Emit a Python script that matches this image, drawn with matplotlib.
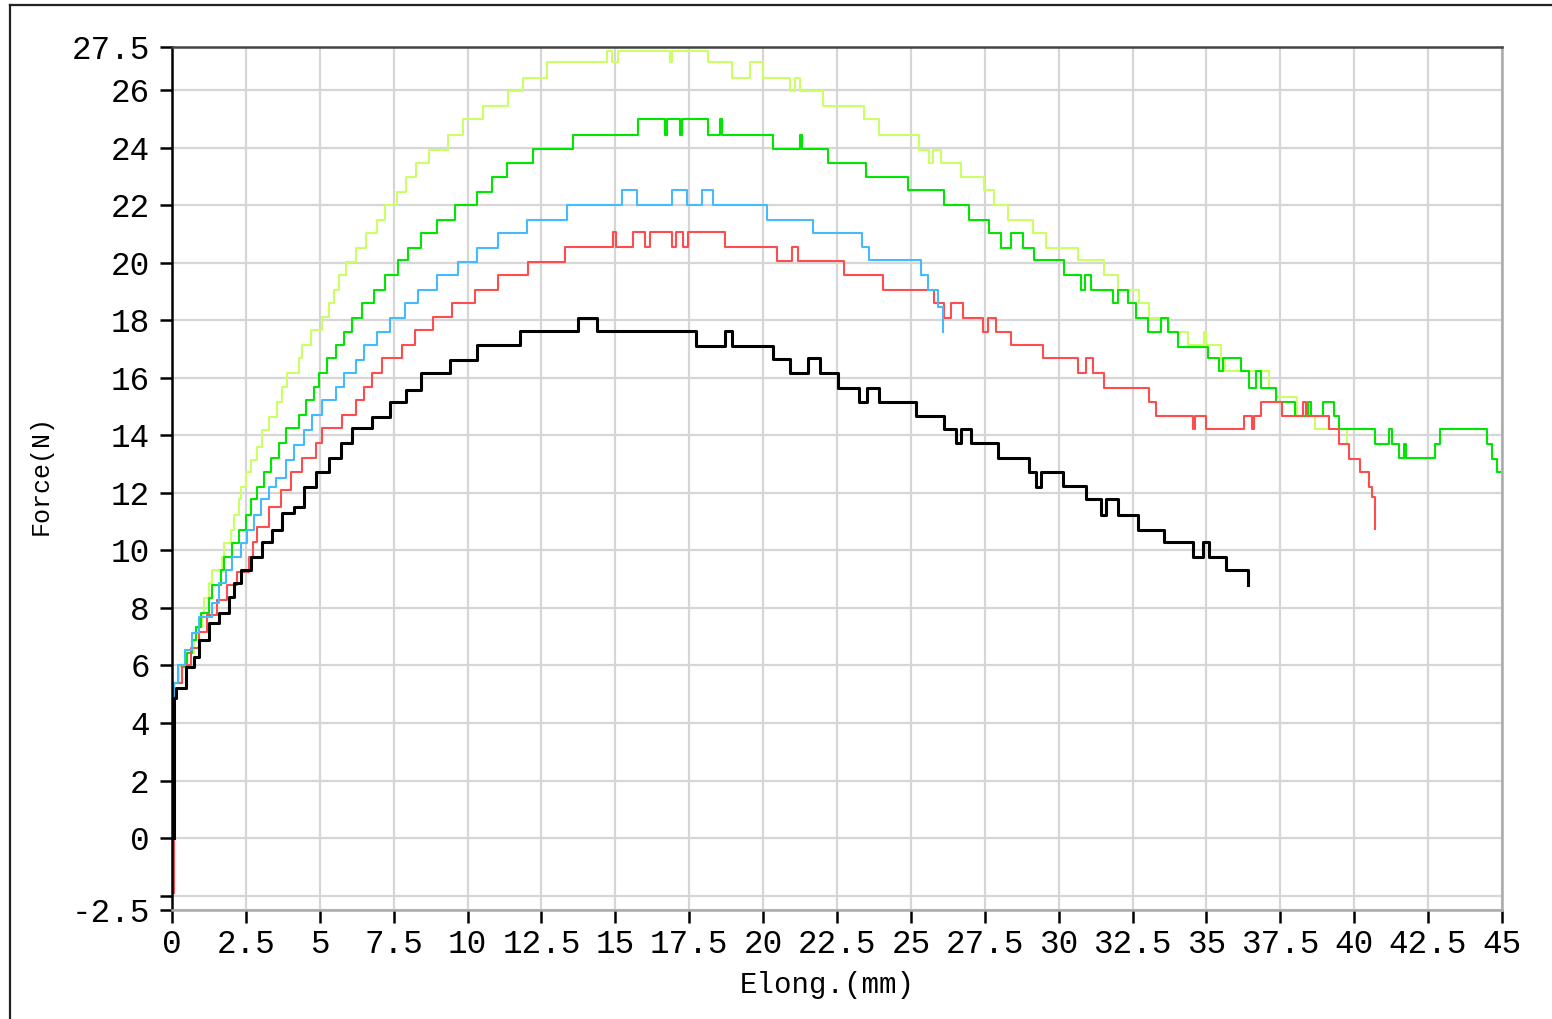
# force vs elongation curves, five specimens

import matplotlib.pyplot as plt
from matplotlib.lines import Line2D

# step points (elongation mm, force N)
black_x = [0.08, 0.08, 0.14, 0.47, 0.75, 0.92, 1.26, 1.59, 1.93, 2.10, 2.34, 2.68, 3.05, 3.39, 3.73, 4.14,
           4.48, 4.88, 5.32, 5.73, 6.10, 6.75, 7.36, 7.93, 8.41, 9.39, 10.31, 11.77, 13.73, 14.38,
           17.73, 18.72, 18.96, 20.35, 20.92, 21.53, 21.94, 22.55, 23.23, 23.53, 23.91, 25.16,
           26.11, 26.52, 26.69, 27.03, 27.94, 28.99, 29.23, 29.40, 30.15, 30.93, 31.43, 31.60,
           32.01, 32.69, 33.57, 34.55, 34.89, 35.10, 35.67, 36.42]
black_y = [0, 4.88, 5.23, 5.93, 6.31, 6.90, 7.49, 7.84, 8.39, 8.88, 9.33, 9.78, 10.30, 10.72, 11.31,
           11.52, 12.22, 12.74, 13.23, 13.75, 14.27, 14.65, 15.17, 15.59, 16.18, 16.63, 17.15,
           17.64, 18.09, 17.64, 17.12, 17.64, 17.12, 16.67, 16.18, 16.70, 16.18, 15.66, 15.17,
           15.66, 15.17, 14.69, 14.23, 13.75, 14.23, 13.75, 13.23, 12.74, 12.22, 12.74, 12.25,
           11.77, 11.24, 11.77, 11.24, 10.72, 10.28, 9.78, 10.28, 9.78, 9.33, 8.81]

red_x = [0.08, 0.08, 0.34, 0.64, 0.92, 1.19, 1.53, 1.87, 2.20, 2.61, 2.75, 2.88, 3.29, 3.70, 4.04, 4.41,
         4.88, 5.09, 5.76, 6.24, 6.51, 6.75, 7.12, 7.77, 8.21, 8.82, 9.49, 10.24, 11.02, 12.04,
         13.29, 14.92, 15.02, 15.60, 16.01, 16.17, 16.92, 17.06, 17.29, 17.46, 18.72, 20.48,
         20.99, 21.19, 22.72, 24.04, 25.77, 26.11, 26.35, 26.75, 27.43, 27.60, 27.87, 28.38,
         29.47, 30.65, 30.93, 31.16, 31.54, 33.06, 33.30, 34.55, 34.62, 35.00, 36.28, 36.55,
         36.62, 36.86, 37.54, 38.28, 38.38, 39.13, 39.50, 39.84, 40.18, 40.49, 40.59, 40.69]
red_y = [-1.9, 5.40, 6.03, 6.62, 7.18, 7.77, 8.29, 8.81, 9.26, 9.78, 10.30, 10.83, 11.52, 12.11,
         12.71, 13.23, 13.75, 14.27, 14.72, 15.24, 15.69, 16.18, 16.70, 17.15, 17.67, 18.12,
         18.61, 19.07, 19.59, 20.04, 20.56, 21.08, 20.56, 21.08, 20.56, 21.08, 20.56, 21.08,
         20.56, 21.08, 20.56, 20.07, 20.56, 20.07, 19.59, 19.07, 18.61, 18.09, 18.61, 18.09,
         17.60, 18.09, 17.60, 17.15, 16.70, 16.18, 16.70, 16.18, 15.66, 15.17, 14.69, 14.23,
         14.69, 14.23, 14.69, 14.23, 14.69, 15.17, 14.69, 15.17, 14.69, 14.23, 13.71, 13.19,
         12.74, 12.22, 11.84, 10.76]

blue_x = [0.08, 0.08, 0.20, 0.44, 0.68, 0.92, 1.36, 1.59, 1.83, 2.03, 2.34, 2.54, 2.78, 3.02, 3.29, 3.53,
          3.87, 4.14, 4.48, 4.75, 5.09, 5.56, 5.83, 6.24, 6.51, 6.95, 7.36, 7.87, 8.31, 8.95, 9.66,
          10.31, 11.02, 12.00, 13.36, 15.23, 15.73, 16.92, 17.43, 17.94, 18.31, 20.14, 21.70,
          23.36, 23.57, 25.33, 25.57, 25.91, 26.08]
blue_y = [0, 5.40, 6.03, 6.55, 7.14, 7.70, 8.18, 8.88, 9.33, 9.78, 10.27, 10.72, 11.24, 11.77,
          12.22, 12.53, 13.16, 13.68, 14.20, 14.72, 15.24, 15.69, 16.18, 16.63, 17.15, 17.60,
          18.09, 18.61, 19.07, 19.59, 20.04, 20.52, 21.04, 21.50, 22.02, 22.54, 22.02, 22.54,
          22.02, 22.54, 22.02, 21.50, 21.04, 20.56, 20.11, 19.59, 19.07, 18.47, 17.60]

green_x = [0.08, 0.08, 0.34, 0.51, 0.68, 0.81, 0.98, 1.25, 1.36, 1.66, 1.76, 2.03, 2.27, 2.51, 2.68, 2.88,
           3.12, 3.36, 3.63, 3.87, 4.31, 4.54, 4.82, 4.98, 5.26, 5.56, 5.83, 6.10, 6.44, 6.85, 7.19,
           7.63, 7.97, 8.44, 8.95, 9.56, 10.31, 10.82, 11.33, 12.21, 13.56, 15.77, 16.68, 16.75,
           17.19, 17.26, 18.14, 18.55, 18.62, 20.35, 21.26, 21.33, 22.18, 23.47, 24.89, 26.11,
           26.96, 27.64, 28.04, 28.38, 28.79, 29.16, 30.18, 30.76, 30.89, 31.10, 31.84, 32.01,
           32.35, 32.62, 33.03, 33.47, 33.71, 34.05, 35.06, 35.44, 35.57, 36.18, 36.45, 36.69,
           36.86, 37.37, 37.98, 38.45, 38.55, 38.96, 39.33, 39.50, 40.69, 41.17, 41.27, 41.51,
           41.68, 41.75, 42.74, 42.90, 44.50, 44.67, 44.83, 44.93]
green_y = [0, 5.40, 5.93, 6.45, 6.90, 7.35, 7.84, 8.36, 8.81, 9.33, 9.78, 10.27, 10.72, 11.24,
           11.77, 12.22, 12.71, 13.23, 13.75, 14.27, 14.72, 15.24, 15.69, 16.18, 16.70, 17.15,
           17.60, 18.09, 18.61, 19.07, 19.59, 20.11, 20.52, 21.04, 21.50, 22.02, 22.47, 22.99,
           23.48, 23.97, 24.45, 25.01, 24.45, 25.01, 24.45, 25.01, 24.45, 25.01, 24.45, 23.97,
           24.45, 23.97, 23.48, 22.99, 22.54, 22.02, 21.50, 21.04, 20.52, 21.04, 20.52, 20.11,
           19.59, 19.07, 19.59, 19.07, 18.61, 19.07, 18.61, 18.09, 17.60, 18.09, 17.60, 17.08,
           16.70, 16.22, 16.70, 16.22, 15.66, 16.22, 15.66, 15.17, 14.69, 15.17, 14.69, 15.17,
           14.69, 14.23, 13.71, 14.23, 13.71, 13.23, 13.71, 13.23, 13.71, 14.23, 13.71, 13.19,
           12.74, 12.74]

lime_x = [0.08, 0.08, 0.24, 0.51, 0.75, 0.81, 1.02, 1.09, 1.25, 1.36, 1.70, 1.76, 2.00, 2.10, 2.27, 2.34,
          2.51, 2.68, 2.88, 3.05, 3.29, 3.56, 3.73, 3.90, 4.31, 4.41, 4.71, 5.09, 5.32, 5.49, 5.66,
          5.90, 6.24, 6.58, 6.95, 7.19, 7.60, 7.93, 8.27, 8.71, 9.33, 9.83, 10.51, 11.36, 11.87,
          12.68, 14.72, 14.89, 15.09, 16.85, 16.92, 18.14, 18.96, 19.57, 20.01, 20.92, 21.09,
          21.26, 22.04, 23.40, 23.91, 25.26, 25.60, 25.74, 26.01, 26.69, 27.47, 27.81, 28.28,
          29.13, 29.57, 30.65, 31.54, 32.01, 32.72, 33.06, 33.74, 34.38, 34.93, 35.00, 35.50,
          35.64, 37.10, 37.37, 38.05, 38.66, 39.74]
lime_y = [0, 5.40, 5.93, 6.45, 6.90, 7.35, 7.84, 8.36, 8.88, 9.33, 9.78, 10.27, 10.72, 11.24,
          11.77, 12.22, 12.71, 13.16, 13.61, 14.20, 14.65, 15.17, 15.69, 16.18, 16.70, 17.15,
          17.67, 18.12, 18.61, 19.07, 19.59, 20.04, 20.52, 21.04, 21.50, 22.02, 22.47, 22.99,
          23.48, 23.93, 24.45, 24.98, 25.45, 25.97, 26.41, 26.97, 27.35, 26.97, 27.35, 26.97,
          27.35, 26.97, 26.41, 26.97, 26.41, 25.97, 26.41, 25.97, 25.45, 25.01, 24.45, 23.93,
          23.48, 23.93, 23.48, 22.99, 22.54, 22.02, 21.50, 21.04, 20.52, 20.11, 19.59, 19.07,
          18.61, 18.09, 17.60, 17.15, 17.60, 17.15, 16.70, 16.22, 15.66, 15.35, 14.69, 14.23,
          13.75]

x_ticks = [0, 2.5, 5, 7.5, 10, 12.5, 15, 17.5, 20, 22.5, 25, 27.5, 30, 32.5, 35, 37.5, 40, 42.5, 45]
y_ticks = [-2.5, -2, 0, 2, 4, 6, 8, 10, 12, 14, 16, 18, 20, 22, 24, 26, 27.5]
y_labels = ["-2.5", "", "0", "2", "4", "6", "8", "10", "12", "14", "16", "18", "20", "22", "24",
            "26", "27.5"]

mono = "Liberation Mono"

fig = plt.figure(figsize=(15.52, 10.19), dpi=100)
ax = fig.add_axes([172 / 1552, 1 - 910 / 1019, 1330 / 1552, 863 / 1019])

# frame of the screen capture
fig.add_artist(Line2D([10 / 1552, 10 / 1552], [0, 1 - 5 / 1019], color="#222222", lw=1.6))
fig.add_artist(Line2D([10 / 1552, 1], [1 - 5 / 1019, 1 - 5 / 1019], color="#222222", lw=1.6))

lw = 1.5
ax.step(lime_x, lime_y, where="post", color="#ccff66", lw=lw)
ax.step(green_x, green_y, where="post", color="#00e600", lw=lw)
ax.step(red_x, red_y, where="post", color="#ff4d4d", lw=lw)
ax.step(blue_x, blue_y, where="post", color="#44bbff", lw=lw)
ax.step(black_x, black_y, where="post", color="black", lw=2.2)

ax.set_xlim(0, 45)
ax.set_ylim(-2.5, 27.5)
ax.set_xticks(x_ticks)
ax.set_xticklabels([f"{v:g}" for v in x_ticks], fontfamily=mono, fontsize=23.5)
ax.set_yticks(y_ticks)
ax.set_yticklabels(y_labels, fontfamily=mono, fontsize=23.5)
ax.tick_params(direction="out", length=9, width=1.8, color="black")
ax.tick_params(axis="y", pad=7)
ax.tick_params(axis="x", pad=5)

ax.grid(True, color="#d6d6d6", lw=1.6)
ax.set_axisbelow(True)

ax.spines["left"].set_color("black")
ax.spines["left"].set_linewidth(1.8)
ax.spines["top"].set_color("#444444")
ax.spines["top"].set_linewidth(1.8)
ax.spines["right"].set_color("#aaaaaa")
ax.spines["right"].set_linewidth(1.8)
ax.spines["bottom"].set_color("#aaaaaa")
ax.spines["bottom"].set_linewidth(1.8)

ax.set_xlabel("Elong.(mm)", fontfamily=mono, fontsize=21, va="center")
ax.xaxis.set_label_coords(0.493, -0.087)
ax.set_ylabel("Force(N)", fontfamily=mono, fontsize=18, va="center")
ax.yaxis.set_label_coords(-0.099, 0.504)

fig.savefig("out.png", dpi=100)
